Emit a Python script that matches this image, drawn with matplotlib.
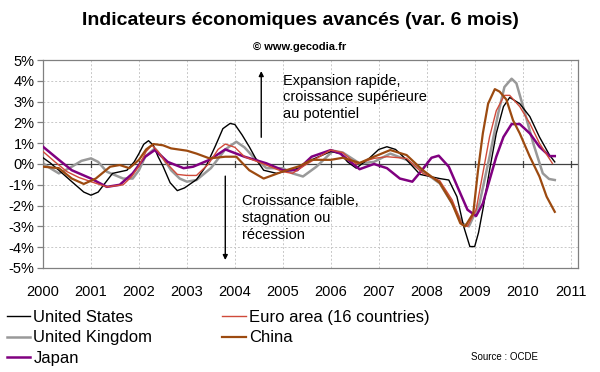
import matplotlib.pyplot as plt
from matplotlib.ticker import FuncFormatter

plt.rcParams['font.family'] = ['Liberation Sans', 'DejaVu Sans']

# values, (year, % change over 6 months)
us_t = [2000.0, 2000.15, 2000.33, 2000.6, 2000.85, 2001.0, 2001.15, 2001.3, 2001.45, 2001.75,
        2001.9, 2002.0, 2002.1, 2002.2, 2002.3, 2002.4, 2002.5, 2002.65, 2002.8, 2002.95,
        2003.2, 2003.4, 2003.6, 2003.75, 2003.9, 2004.0, 2004.15, 2004.3, 2004.45, 2004.6,
        2004.87, 2005.15, 2005.35, 2005.6, 2006.0, 2006.2, 2006.35, 2006.53, 2006.8, 2007.0,
        2007.17, 2007.35, 2007.58, 2007.86, 2008.27, 2008.46, 2008.63, 2008.77, 2008.9, 2009.0,
        2009.08, 2009.17, 2009.31, 2009.45, 2009.6, 2009.73, 2009.94, 2010.15, 2010.35, 2010.56,
        2010.67]
us_v = [0.3, 0.05, -0.3, -0.85, -1.35, -1.5, -1.35, -0.9, -0.45, -0.3,
        0.1, 0.5, 0.95, 1.12, 0.9, 0.35, -0.1, -0.9, -1.28, -1.15,
        -0.75, -0.1, 0.9, 1.7, 1.95, 1.9, 1.4, 0.83, 0.2, -0.3,
        -0.45, -0.3, -0.2, 0.2, 0.6, 0.5, 0.1, -0.2, 0.27, 0.7,
        0.83, 0.7, 0.2, -0.5, -0.7, -0.77, -1.57, -3.0, -3.97, -3.97,
        -3.3, -2.2, -0.3, 1.47, 2.76, 3.2, 2.9, 2.28, 1.3, 0.43,
        0.1]

euro_t = [2000.0, 2000.25, 2000.5, 2000.75, 2001.0, 2001.33, 2001.67, 2001.85, 2002.0, 2002.15,
          2002.27, 2002.4, 2002.55, 2002.8, 2003.0, 2003.2, 2003.45, 2003.65, 2003.8, 2004.0,
          2004.2, 2004.6, 2005.0, 2005.2, 2005.5, 2006.0, 2006.25, 2006.53, 2006.9, 2007.17,
          2007.58, 2007.92, 2008.27, 2008.53, 2008.74, 2008.85, 2009.03, 2009.17, 2009.31, 2009.45,
          2009.62, 2009.73, 2009.94, 2010.15, 2010.35, 2010.62]
euro_v = [0.6, 0.1, -0.37, -0.65, -0.85, -1.1, -1.0, -0.6, -0.1, 0.6,
          0.9, 0.6, 0.1, -0.5, -0.55, -0.55, 0.0, 0.7, 0.96, 0.8,
          0.35, 0.0, -0.37, -0.45, 0.0, 0.67, 0.55, 0.0, 0.27, 0.35,
          0.27, -0.45, -0.8, -1.73, -2.93, -3.0, -2.2, -0.45, 1.3, 2.56,
          3.3, 3.3, 2.76, 1.95, 1.0, 0.03]

uk_t = [2000.0, 2000.15, 2000.33, 2000.55, 2000.8, 2001.0, 2001.15, 2001.33, 2001.67, 2001.87,
        2002.0, 2002.13, 2002.33, 2002.5, 2002.67, 2002.85, 2003.0, 2003.2, 2003.5, 2003.8,
        2004.03, 2004.2, 2004.4, 2004.66, 2005.0, 2005.2, 2005.42, 2005.7, 2006.05, 2006.25,
        2006.6, 2006.9, 2007.24, 2007.58, 2007.92, 2008.27, 2008.53, 2008.74, 2008.88, 2009.1,
        2009.31, 2009.49, 2009.62, 2009.77, 2009.87, 2010.05, 2010.22, 2010.42, 2010.55, 2010.67]
uk_v = [0.03, -0.2, -0.45, -0.2, 0.15, 0.27, 0.1, -0.37, -0.7, -0.7,
        -0.3, 0.35, 0.75, 0.3, -0.3, -0.7, -0.85, -0.77, -0.2, 0.7,
        1.07, 0.8, 0.3, -0.2, -0.2, -0.45, -0.6, -0.13, 0.64, 0.55,
        0.03, 0.1, 0.5, 0.2, -0.35, -0.93, -1.9, -2.85, -3.0, -1.9,
        0.35, 2.43, 3.7, 4.1, 3.88, 2.43, 1.0, -0.45, -0.72, -0.77]

china_t = [2000.0, 2000.33, 2000.6, 2000.85, 2001.1, 2001.4, 2001.6, 2001.8, 2002.0, 2002.15,
           2002.3, 2002.5, 2002.67, 2003.0, 2003.2, 2003.47, 2003.8, 2004.03, 2004.3, 2004.6,
           2004.8, 2005.07, 2005.35, 2005.6, 2006.0, 2006.25, 2006.6, 2006.9, 2007.24, 2007.58,
           2007.92, 2008.27, 2008.53, 2008.7, 2008.8, 2008.97, 2009.07, 2009.17, 2009.28, 2009.42,
           2009.52, 2009.66, 2009.8, 2009.94, 2010.15, 2010.35, 2010.5, 2010.67]
china_v = [-0.13, -0.2, -0.7, -0.96, -0.7, -0.13, -0.05, -0.2, 0.2, 0.7,
           0.96, 0.9, 0.75, 0.64, 0.5, 0.27, 0.35, 0.35, -0.3, -0.7,
           -0.53, -0.3, -0.1, 0.2, 0.2, 0.3, 0.05, 0.35, 0.67, 0.43,
           -0.3, -0.9, -1.9, -2.85, -3.0, -2.37, -0.3, 1.47, 2.9, 3.6,
           3.48, 3.1, 2.1, 1.47, 0.35, -0.6, -1.57, -2.3]

japan_t = [2000.0, 2000.33, 2000.6, 2001.0, 2001.33, 2001.6, 2001.87, 2002.13, 2002.33, 2002.6,
           2002.93, 2003.13, 2003.47, 2003.8, 2004.2, 2004.66, 2005.0, 2005.3, 2005.6, 2006.0,
           2006.2, 2006.6, 2006.9, 2007.17, 2007.44, 2007.7, 2007.9, 2008.1, 2008.25, 2008.46,
           2008.67, 2008.85, 2009.03, 2009.17, 2009.31, 2009.45, 2009.6, 2009.77, 2009.94, 2010.15,
           2010.35, 2010.56, 2010.67]
japan_v = [0.83, 0.2, -0.3, -0.7, -1.1, -1.0, -0.45, 0.35, 0.67, 0.1,
           -0.2, -0.13, 0.2, 0.7, 0.35, 0.03, -0.3, -0.3, 0.35, 0.67,
           0.5, -0.25, 0.0, -0.2, -0.7, -0.85, -0.3, 0.3, 0.4, -0.13,
           -1.25, -2.2, -2.5, -1.9, -0.77, 0.35, 1.3, 1.92, 1.92, 1.47,
           0.83, 0.38, 0.38]

years = list(range(2000, 2012))
y_ticks = list(range(-5, 6))


def main():
    fig = plt.figure(figsize=(6, 3.72), dpi=100)
    ax = fig.add_axes([0.0717, 0.2796, 0.8913, 0.5591])

    # grid and frame
    for y in y_ticks:
        ax.axhline(y, color='#c8c8c8', lw=0.7, ls=(0, (2, 2)), zorder=0)
    for yr in years:
        ax.axvline(yr, color='#c8c8c8', lw=0.7, ls=(0, (2, 2)), zorder=0)
    ax.axhline(0, color='#404040', lw=0.9, zorder=1)
    for yr in years:
        ax.plot([yr, yr], [-0.15, 0.15], color='#404040', lw=0.9, zorder=1)
    for s in ax.spines.values():
        s.set_color('#808080')
        s.set_linewidth(0.9)

    ax.plot(us_t, us_v, color='black', lw=1.0, label='United States', zorder=3)
    ax.plot(uk_t, uk_v, color='#999999', lw=1.8, label='United Kingdom', zorder=2)
    ax.plot(japan_t, japan_v, color='#800080', lw=1.8, label='Japan', zorder=3)
    ax.plot(euro_t, euro_v, color='#d04a3a', lw=1.0, label='Euro area (16 countries)', zorder=3)
    ax.plot(china_t, china_v, color='#9c4a10', lw=1.6, label='China', zorder=3)

    ax.set_xlim(2000, 2011.15)
    ax.set_ylim(-5, 5)
    ax.set_yticks(y_ticks)
    ax.yaxis.set_major_formatter(FuncFormatter(lambda v, p: '%d%%' % v))
    ax.set_xticks(years)
    ax.set_xticklabels([str(y) for y in years])
    ax.tick_params(axis='y', length=4, width=0.9, color='#808080', labelsize=10.5, pad=2)
    ax.tick_params(axis='x', length=0, labelsize=10.5, pad=12)

    # arrows and notes
    ax.annotate('', xy=(2004.55, 4.6), xytext=(2004.55, 1.15),
                arrowprops=dict(arrowstyle='-|>', color='black', lw=1.0, mutation_scale=7))
    ax.annotate('', xy=(2003.8, -4.75), xytext=(2003.8, -0.45),
                arrowprops=dict(arrowstyle='-|>', color='black', lw=1.0, mutation_scale=7))
    ax.text(2005.0, 4.35, 'Expansion rapide,\ncroissance supérieure\nau potentiel',
            fontsize=10.5, va='top', ha='left', linespacing=1.25)
    ax.text(2004.15, -1.45, 'Croissance faible,\nstagnation ou\nrécession',
            fontsize=10.5, va='top', ha='left', linespacing=1.25)

    fig.text(0.5, 0.945, 'Indicateurs économiques avancés (var. 6 mois)',
             ha='center', va='center', fontsize=14, fontweight='bold')
    fig.text(0.5, 0.873, '© www.gecodia.fr', ha='center', va='center',
             fontsize=8, fontweight='bold')
    fig.text(0.785, 0.04, 'Source : OCDE', ha='left', va='center', fontsize=7)

    fig.legend(loc='upper left', bbox_to_anchor=(0.0, 0.185), ncol=2, frameon=False,
               fontsize=12, handlelength=1.4, handletextpad=0.2, columnspacing=4.2,
               labelspacing=0.33, borderaxespad=0)

    fig.savefig('out.png', dpi=100)


if __name__ == '__main__':
    main()
